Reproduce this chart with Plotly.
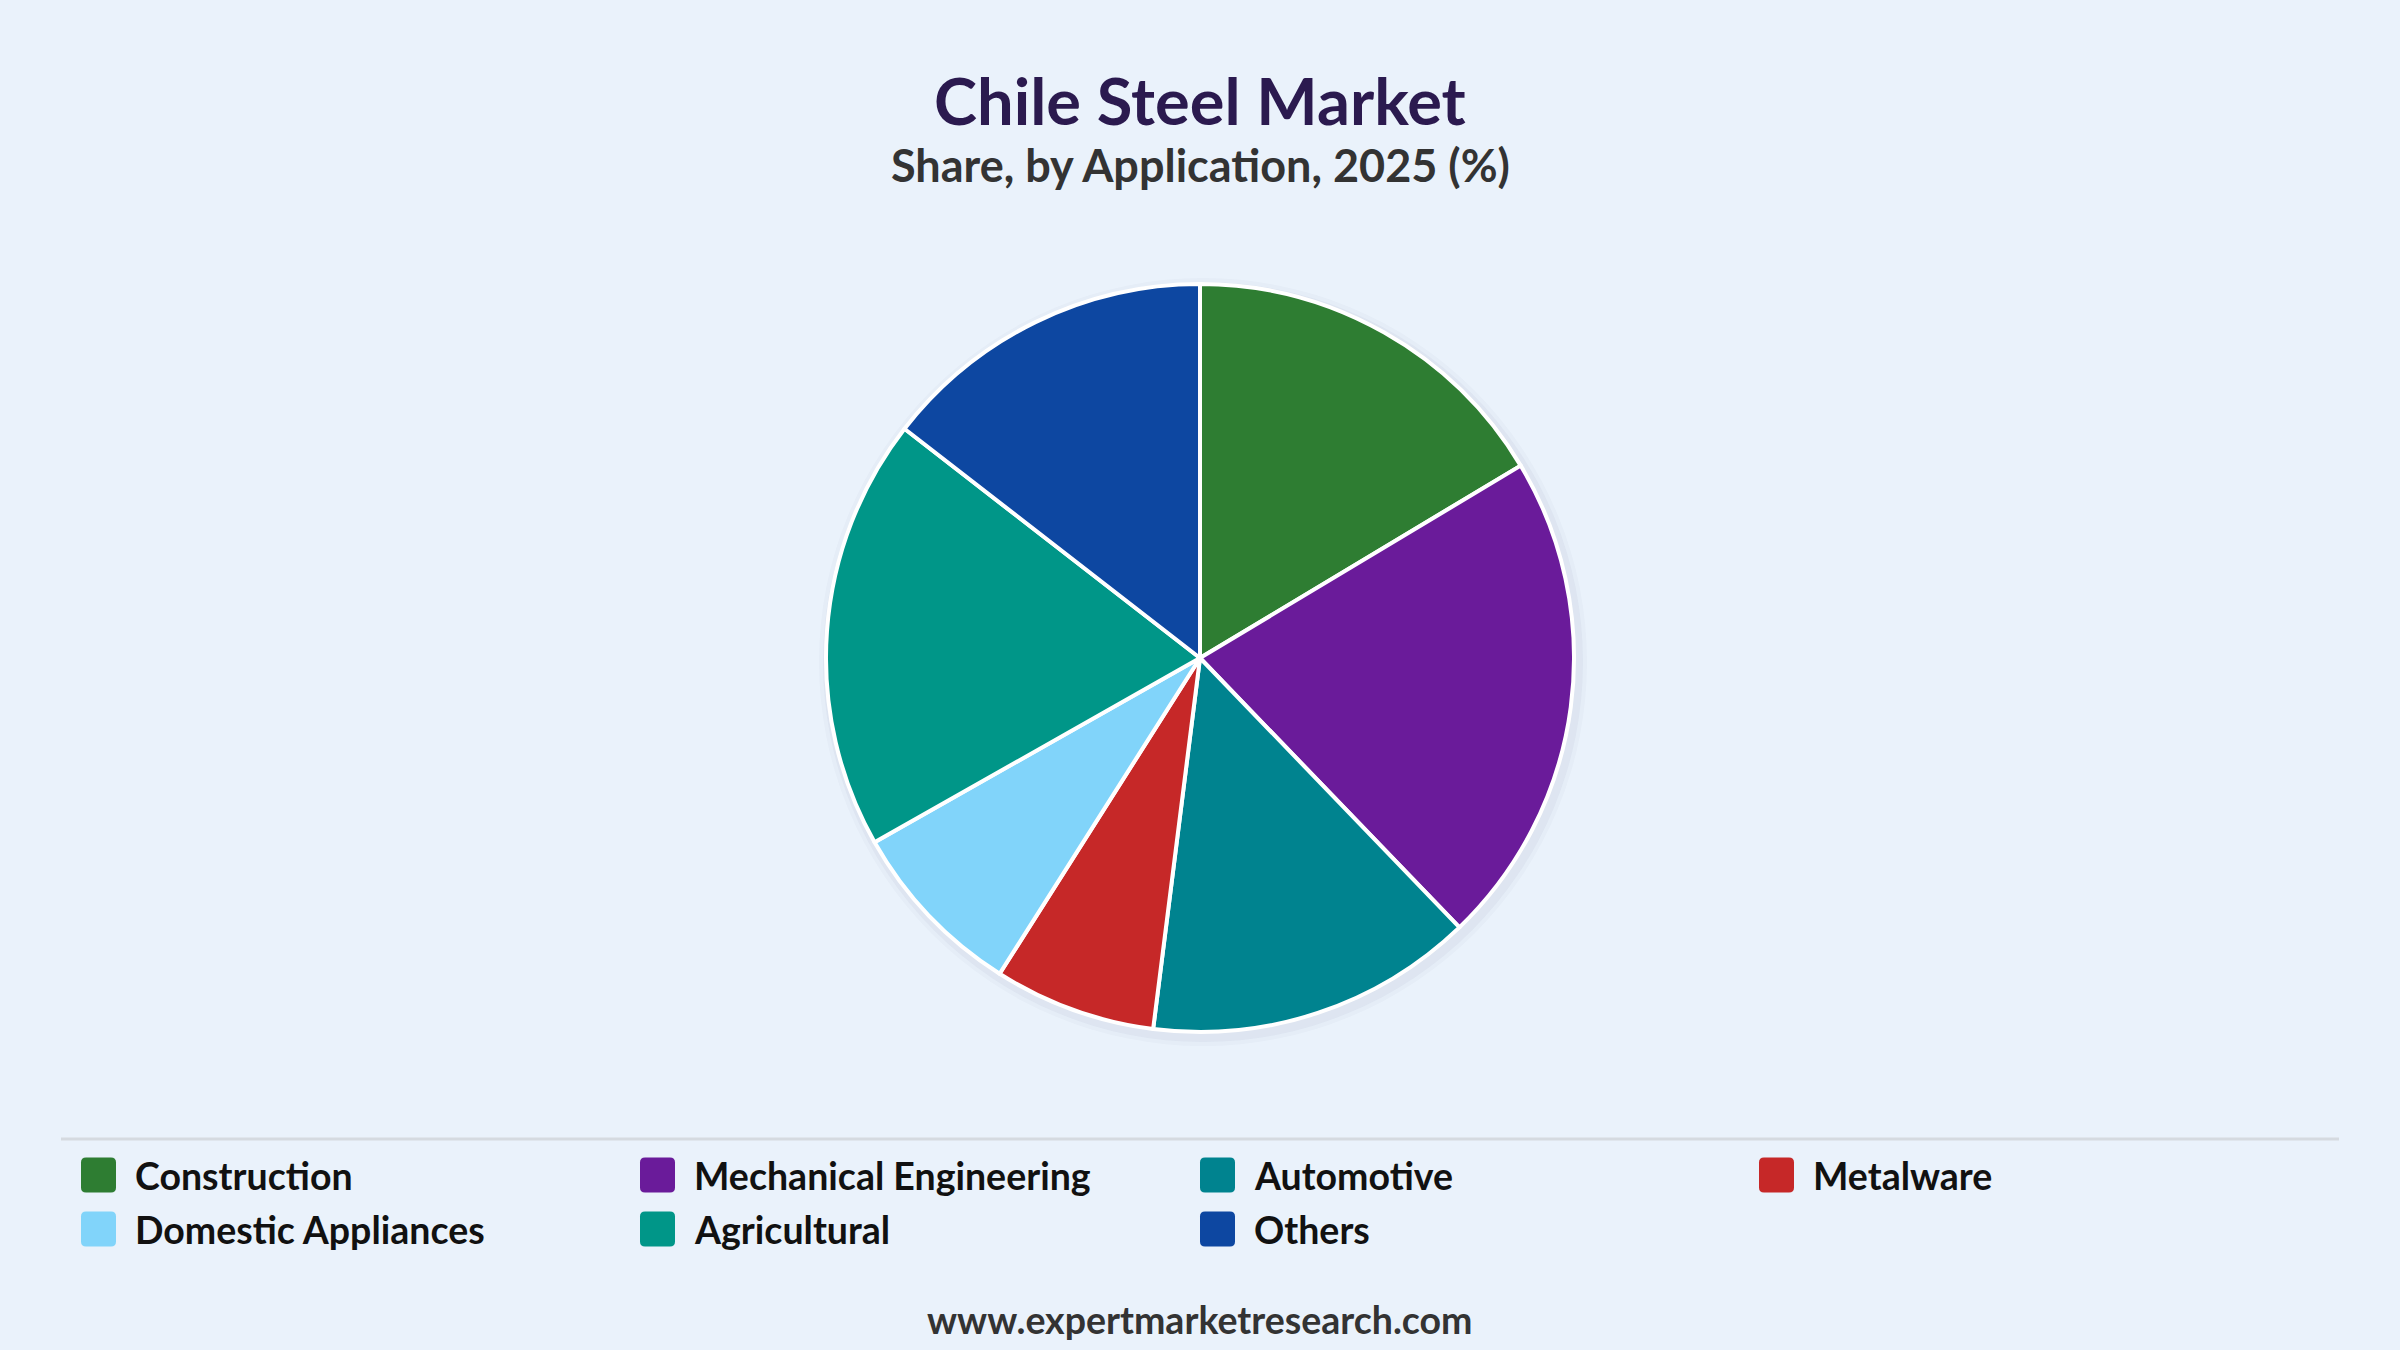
import plotly.graph_objects as go

# DATA
categories = ["Construction", "Mechanical Engineering", "Automotive", "Metalware",
              "Domestic Appliances", "Agricultural", "Others"]
shares = [16.4, 21.4, 14.2, 7.0, 7.8, 18.7, 14.5]
colors = ["#2E7D32", "#6A1B9A", "#00838F", "#C62828", "#81D4FA", "#009688", "#0D47A1"]

W, H = 2400, 1350
FONT = "Lato"
BG = "#EAF2FB"


def px(x, y):
    # pixel (from top-left) -> paper coords
    return x / W, 1 - y / H


def rounded_rect(x0, y0, size, r):
    # rounded square in paper coords, x0/y0 = top-left in pixels
    x1, y1 = x0 + size, y0 + size
    p = lambda a, b: "%s,%s" % px(a, b)
    return " ".join([
        "M " + p(x0 + r, y0),
        "L " + p(x1 - r, y0),
        "Q " + p(x1, y0) + " " + p(x1, y0 + r),
        "L " + p(x1, y1 - r),
        "Q " + p(x1, y1) + " " + p(x1 - r, y1),
        "L " + p(x0 + r, y1),
        "Q " + p(x0, y1) + " " + p(x0, y1 - r),
        "L " + p(x0, y0 + r),
        "Q " + p(x0, y0) + " " + p(x0 + r, y0),
        "Z",
    ])


# PIE
cx, cy, rad = 1200, 658, 374
fig = go.Figure(go.Pie(
    labels=categories,
    values=shares,
    sort=False,
    direction="clockwise",
    rotation=0,
    marker=dict(colors=colors, line=dict(color="white", width=4)),
    textinfo="none",
    hoverinfo="label+percent",
    showlegend=False,
    domain=dict(x=[0, 1], y=[1 - (cy + rad) / H, 1 - (cy - rad) / H]),
))

shapes = []
# soft shadow behind the pie
for grow, alpha in [(10, 0.025), (6, 0.04)]:
    shapes.append(dict(
        type="circle", xref="paper", yref="paper", layer="below",
        x0=(cx - rad - grow + 3) / W, x1=(cx + rad + grow + 3) / W,
        y0=1 - (cy + rad + grow + 4) / H, y1=1 - (cy - rad - grow + 4) / H,
        fillcolor=f"rgba(40,60,90,{alpha})", line=dict(width=0),
    ))

# separator above legend
shapes.append(dict(type="line", xref="paper", yref="paper",
                   x0=61 / W, x1=2339 / W, y0=1 - 1139 / H, y1=1 - 1139 / H,
                   line=dict(color="#D5DAE0", width=3)))

annotations = [
    dict(text="<b>Chile Steel Market</b>", x=0.5, y=1 - 100 / H, xref="paper", yref="paper",
         showarrow=False, xanchor="center", yanchor="middle",
         font=dict(family=FONT, size=65, color="#2B1A4F")),
    dict(text="<b>Share, by Application, 2025 (%)</b>", x=0.5, y=1 - 165 / H, xref="paper", yref="paper",
         showarrow=False, xanchor="center", yanchor="middle",
         font=dict(family=FONT, size=45, color="#333333")),
    dict(text="<b>www.expertmarketresearch.com</b>", x=0.5, y=1 - 1319 / H, xref="paper", yref="paper",
         showarrow=False, xanchor="center", yanchor="middle",
         font=dict(family=FONT, size=37.5, color="#333333")),
]

# LEGEND (custom, 4 columns)
col_x = [81, 640, 1200, 1759]
row_y = [1175, 1229]
sw = 35
for i, (lab, col) in enumerate(zip(categories, colors)):
    x0 = col_x[i % 4]
    yc = row_y[i // 4]
    shapes.append(dict(type="path", xref="paper", yref="paper",
                       path=rounded_rect(x0, yc - sw / 2, sw, 5),
                       fillcolor=col, line=dict(width=0)))
    annotations.append(dict(text=f"<b>{lab}</b>", x=(x0 + 52) / W, y=1 - yc / H,
                            xref="paper", yref="paper", showarrow=False,
                            xanchor="left", yanchor="middle",
                            font=dict(family=FONT, size=37.5, color="#111111")))

fig.update_layout(
    width=W,
    height=H,
    paper_bgcolor=BG,
    plot_bgcolor=BG,
    margin=dict(l=0, r=0, t=0, b=0),
    shapes=shapes,
    annotations=annotations,
    font=dict(family=FONT),
)

fig.write_html(
    "out.html",
    config={"displayModeBar": False},
    post_script="document.body.style.margin='0';document.body.style.overflow='hidden';",
)
